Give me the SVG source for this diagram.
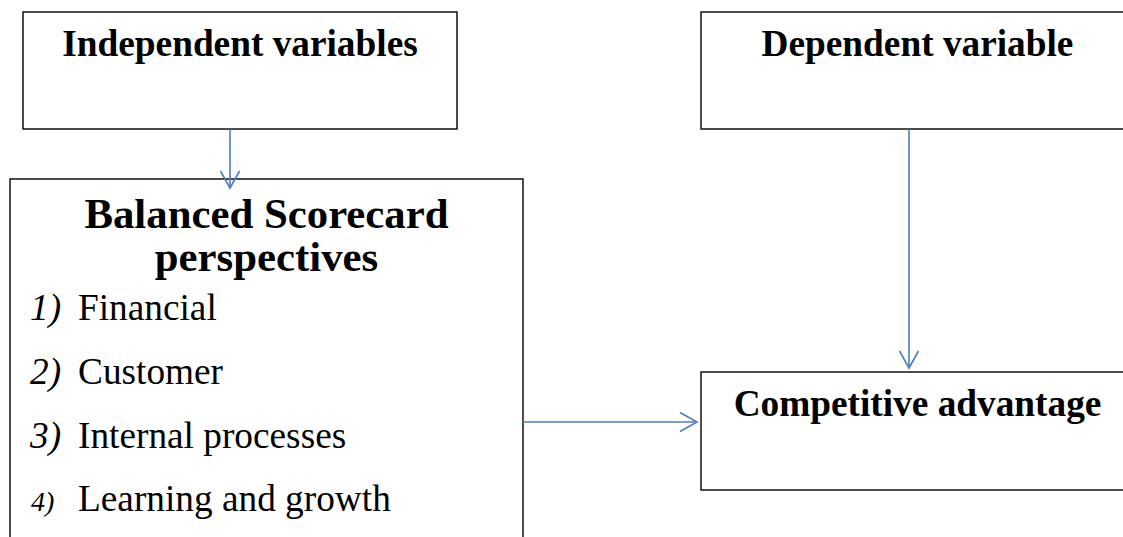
<svg xmlns="http://www.w3.org/2000/svg" width="1123" height="537" viewBox="0 0 1123 537">
<defs>
<style>
.box{fill:#fff;stroke:#000;stroke-width:1.4}
.conn{fill:none;stroke:#4a7ebb;stroke-width:1.6}
.title{font-family:"Liberation Serif","Times New Roman",serif;font-weight:bold;fill:#000;text-anchor:middle}
.item{font-family:"Liberation Serif","Times New Roman",serif;fill:#000;font-size:37.3px}
.num{font-style:italic}
</style>
<marker id="arr" markerUnits="userSpaceOnUse" viewBox="-20 -12 22 24" refX="0" refY="0" markerWidth="22" markerHeight="24" orient="auto">
<path d="M-17,-9.5 L0,0 L-17,9.5" fill="none" stroke="#4a7ebb" stroke-width="1.6"/>
</marker>
</defs>
<rect width="1123" height="537" fill="#fff"/>
<g id="independent">
<rect class="box" x="23" y="12" width="434" height="117"/>
<text class="title" x="240" y="56" font-size="37.3">Independent variables</text>
</g>
<g id="dependent">
<rect class="box" x="701" y="12" width="434" height="117"/>
<text class="title" x="917.5" y="56" font-size="37.3">Dependent variable</text>
</g>
<g id="bsc">
<rect class="box" x="10" y="179" width="513" height="370"/>
<text class="title" x="266.5" y="228" font-size="42.8">Balanced Scorecard</text>
<text class="title" x="266.5" y="271" font-size="42.8">perspectives</text>
<text class="item" y="320"><tspan class="num" x="30">1)</tspan><tspan x="78">Financial</tspan></text>
<text class="item" y="384"><tspan class="num" x="30">2)</tspan><tspan x="78">Customer</tspan></text>
<text class="item" y="448"><tspan class="num" x="30">3)</tspan><tspan x="78">Internal processes</tspan></text>
<text class="item" y="511"><tspan class="num" x="31" font-size="28">4)</tspan><tspan x="78">Learning and growth</tspan></text>
</g>
<g id="competitive">
<rect class="box" x="701" y="372" width="434" height="118"/>
<text class="title" x="917.5" y="416" font-size="37.3">Competitive advantage</text>
</g>
<g id="connectors">
<path class="conn" d="M230,129 L230,188" marker-end="url(#arr)"/>
<path class="conn" d="M909,129 L909,368" marker-end="url(#arr)"/>
<path class="conn" d="M523,422 L697,422" marker-end="url(#arr)"/>
</g>
</svg>
